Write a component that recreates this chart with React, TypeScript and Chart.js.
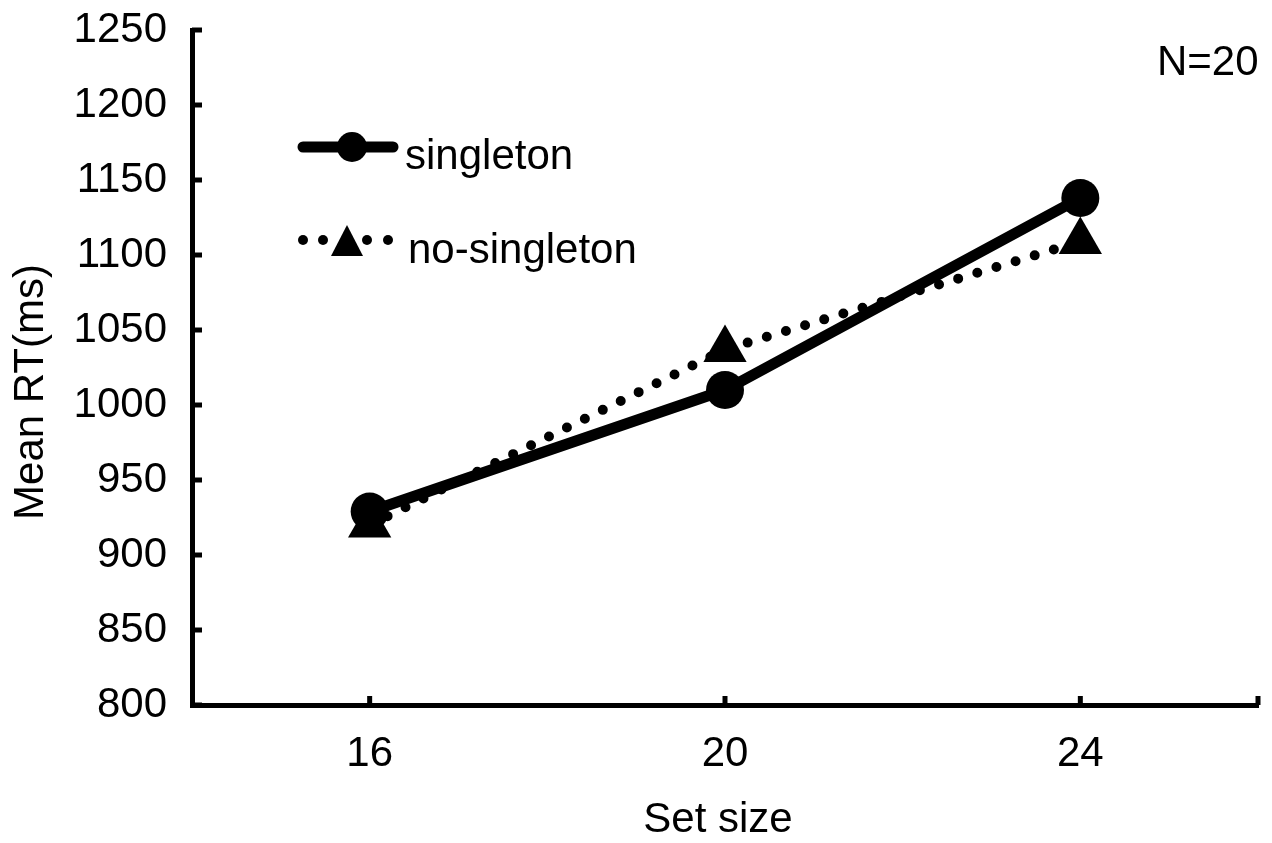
import React, { useEffect, useRef } from 'react'
import Chart from 'chart.js/auto';

// values
const setSizes = [16, 20, 24];
const singletonRT = [929, 1010, 1138];
const noSingletonRT = [920, 1037, 1109];
const xTickValues = [16, 20, 24];
const yTickValues = [800, 850, 900, 950, 1000, 1050, 1100, 1150, 1200, 1250];

const FONT = '"Liberation Sans", Arial, sans-serif';

// inward tick marks, legend and annotations
const decorPlugin = {
  id: 'decor',
  afterDraw(chart: Chart) {
    const { ctx, chartArea } = chart;
    const xs = chart.scales.x;
    const ys = chart.scales.y;
    ctx.save();
    ctx.strokeStyle = '#000';
    ctx.fillStyle = '#000';
    ctx.lineWidth = 5;
    ctx.lineCap = 'butt';
    yTickValues.forEach((v) => {
      const y = ys.getPixelForValue(v);
      ctx.beginPath();
      ctx.moveTo(chartArea.left, y);
      ctx.lineTo(chartArea.left + 10, y);
      ctx.stroke();
    });
    [...xTickValues, xs.max].forEach((v) => {
      const x = xs.getPixelForValue(v);
      ctx.beginPath();
      ctx.moveTo(x, chartArea.bottom);
      ctx.lineTo(x, chartArea.bottom - 9);
      ctx.stroke();
    });

    // legend
    ctx.lineWidth = 11;
    ctx.lineCap = 'round';
    ctx.beginPath();
    ctx.moveTo(303, 147);
    ctx.lineTo(393, 147);
    ctx.stroke();
    ctx.beginPath();
    ctx.arc(352, 147, 15, 0, Math.PI * 2);
    ctx.fill();
    [303, 323, 367, 388].forEach((x) => {
      ctx.beginPath();
      ctx.arc(x, 240, 5, 0, Math.PI * 2);
      ctx.fill();
    });
    ctx.beginPath();
    ctx.moveTo(347, 225);
    ctx.lineTo(331, 256);
    ctx.lineTo(363, 256);
    ctx.closePath();
    ctx.fill();

    ctx.font = `42px ${FONT}`;
    ctx.textAlign = 'left';
    ctx.textBaseline = 'alphabetic';
    ctx.fillText('singleton', 405, 169);
    ctx.fillText('no-singleton', 408, 263);
    ctx.fillText('N=20', 1157, 75);

    ctx.textAlign = 'center';
    ctx.fillText('Set size', 718, 832);
    ctx.translate(43, 392);
    ctx.rotate(-Math.PI / 2);
    ctx.fillText('Mean RT(ms)', 0, 0);
    ctx.restore();
  },
};

const noScalePadding = (scale: any) => {
  scale.paddingTop = 0;
  scale.paddingBottom = 0;
  scale.paddingLeft = 0;
  scale.paddingRight = 0;
};

const App: React.FC = () => {
  const chartRef = useRef<HTMLCanvasElement | null>(null);
  const chartInstanceRef = useRef<Chart | null>(null);

  useEffect(() => {
    document.body.style.margin = '0';
    if (chartInstanceRef.current) {
      chartInstanceRef.current.destroy();
    }
    const ctx = chartRef.current?.getContext('2d');
    if (ctx) {
      chartInstanceRef.current = new Chart(ctx, {
        type: 'line',
        data: {
          datasets: [
            {
              label: 'singleton',
              data: setSizes.map((x, i) => ({ x, y: singletonRT[i] })),
              borderColor: '#000',
              backgroundColor: '#000',
              borderWidth: 11,
              borderCapStyle: 'round',
              borderJoinStyle: 'round',
              pointStyle: 'circle',
              pointRadius: 19,
              pointBorderWidth: 0,
              pointBackgroundColor: '#000',
              tension: 0,
            },
            {
              label: 'no-singleton',
              data: setSizes.map((x, i) => ({ x, y: noSingletonRT[i] })),
              borderColor: '#000',
              backgroundColor: '#000',
              borderWidth: 10,
              borderDash: [0, 20],
              borderCapStyle: 'round',
              pointStyle: 'triangle',
              pointRadius: 25,
              pointBorderWidth: 0,
              pointBackgroundColor: '#000',
              tension: 0,
            },
          ],
        },
        options: {
          responsive: true,
          maintainAspectRatio: false,
          animation: false,
          layout: {
            autoPadding: false,
            padding: { top: 30, right: 14, left: 0, bottom: 0 },
          },
          plugins: {
            legend: { display: false },
            tooltip: { enabled: false },
          },
          elements: { line: { fill: false } },
          datasets: { line: { clip: false } } as any,
          scales: {
            x: {
              type: 'linear',
              min: 14,
              max: 26,
              afterBuildTicks: (scale: any) => {
                scale.ticks = xTickValues.map((v) => ({ value: v }));
              },
              afterFit: (scale: any) => {
                scale.height = 138;
                noScalePadding(scale);
              },
              grid: { display: false },
              border: { display: true, width: 5, color: '#000' },
              ticks: {
                color: '#000',
                padding: 16,
                font: { size: 42, family: FONT },
                callback: (v: any) => String(v),
              },
            },
            y: {
              min: 800,
              max: 1250,
              afterBuildTicks: (scale: any) => {
                scale.ticks = yTickValues.map((v) => ({ value: v }));
              },
              afterFit: (scale: any) => {
                scale.width = 192;
                noScalePadding(scale);
              },
              grid: { display: false },
              border: { display: true, width: 5, color: '#000' },
              ticks: {
                color: '#000',
                padding: 17,
                font: { size: 42, family: FONT },
                callback: (v: any) => String(v),
              },
            },
          },
        },
        plugins: [decorPlugin],
      });
    }
    return () => {
      if (chartInstanceRef.current) {
        chartInstanceRef.current.destroy();
        chartInstanceRef.current = null;
      }
    };
  }, []);

  return (
    <div style={{ width: '1272px', height: '843px', background: '#fff' }}>
      <canvas ref={chartRef} style={{ width: '100%', height: '100%' }}></canvas>
    </div>
  );
};

export default App;
